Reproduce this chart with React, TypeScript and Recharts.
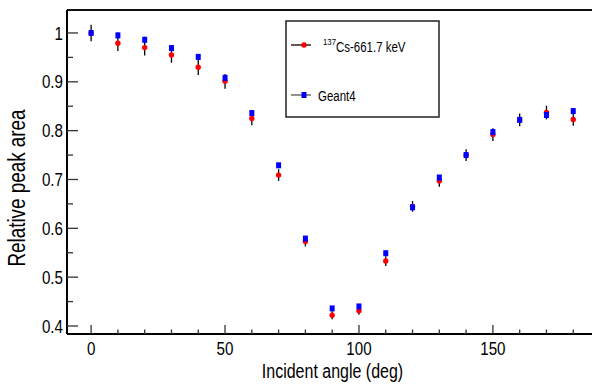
import {
  ErrorBar,
  Legend,
  ReferenceLine,
  Scatter,
  ScatterChart,
  XAxis,
  YAxis,
} from "recharts";

// incident angles (deg)
const angles = [0, 10, 20, 30, 40, 50, 60, 70, 80, 90, 100, 110, 120, 130, 140, 150, 160, 170, 180];

// 137Cs 661.7 keV measurement
const csArea = [1.0, 0.979, 0.97, 0.955, 0.93, 0.901, 0.825, 0.709, 0.573, 0.422, 0.431, 0.533, 0.645, 0.697, 0.75, 0.792, 0.822, 0.837, 0.823];
const csErr = [0.017, 0.016, 0.016, 0.016, 0.016, 0.015, 0.014, 0.012, 0.01, 0.008, 0.008, 0.01, 0.011, 0.012, 0.012, 0.013, 0.013, 0.014, 0.013];

// Geant4 simulation
const g4Area = [1.0, 0.995, 0.986, 0.969, 0.951, 0.908, 0.836, 0.729, 0.579, 0.436, 0.44, 0.549, 0.643, 0.704, 0.75, 0.797, 0.822, 0.832, 0.84];
const g4Err = [0.006, 0.006, 0.006, 0.006, 0.006, 0.006, 0.005, 0.005, 0.005, 0.004, 0.004, 0.005, 0.005, 0.005, 0.005, 0.006, 0.006, 0.006, 0.006];

const xTicks = [0, 10, 20, 30, 40, 50, 60, 70, 80, 90, 100, 110, 120, 130, 140, 150, 160, 170, 180];
const yTicks = [0.4, 0.45, 0.5, 0.55, 0.6, 0.65, 0.7, 0.75, 0.8, 0.85, 0.9, 0.95, 1.0];

const X_DOMAIN: [number, number] = [-9, 187];
const Y_DOMAIN: [number, number] = [0.3836, 1.047];

const FONT = "'Liberation Sans', Arial, sans-serif";
const NARROW = 0.82; // ROOT-style condensed helvetica
const TICK_MARGIN = 4;

const csData = angles.map((a, i) => ({ angle: a, area: csArea[i], err: csErr[i] }));
const g4Data = angles.map((a, i) => ({ angle: a, area: g4Area[i], err: g4Err[i] }));

// text squeezed horizontally (along its own direction)
function NText({ x, y, size, anchor = "start", rotate = 0, dy, children }: any) {
  return (
    <g transform={`translate(${x}, ${y}) rotate(${rotate}) scale(${NARROW}, 1)`}>
      <text x={0} y={0} dy={dy} textAnchor={anchor} fontSize={size} fontFamily={FONT} fill="#000">
        {children}
      </text>
    </g>
  );
}

function XTick(props: any) {
  const { x, y, payload } = props;
  const v = payload.value as number;
  const major = v % 50 === 0;
  const axisY = y - TICK_MARGIN;
  return (
    <g>
      <line x1={x} x2={x} y1={axisY} y2={axisY - (major ? 9 : 4.5)} stroke="#333" strokeWidth={1.3} />
      {major && (
        <NText x={x} y={axisY + 21} size={18.5} anchor="middle">
          {v}
        </NText>
      )}
    </g>
  );
}

function YTick(props: any) {
  const { x, y, payload } = props;
  const v = payload.value as number;
  const major = Math.abs(v * 10 - Math.round(v * 10)) < 1e-6;
  const axisX = x + TICK_MARGIN;
  return (
    <g>
      <line x1={axisX} x2={axisX + (major ? 11 : 6)} y1={y} y2={y} stroke="#333" strokeWidth={1.3} />
      {major && (
        <NText x={x} y={y} dy="0.36em" size={18.5} anchor="end">
          {Number(v.toFixed(1)).toString()}
        </NText>
      )}
    </g>
  );
}

function XLabel(props: any) {
  const { viewBox } = props;
  const cx = viewBox.x + viewBox.width / 2 + 3;
  return (
    <NText x={cx} y={378} size={19.5} anchor="middle">
      Incident angle (deg)
    </NText>
  );
}

function YLabel(props: any) {
  const { viewBox } = props;
  const cy = viewBox.y + viewBox.height / 2 + 16;
  return (
    <NText x={25} y={cy} size={23} anchor="middle" rotate={-90}>
      Relative peak area
    </NText>
  );
}

function LegendBox() {
  return (
    <svg width={156} height={100} style={{ display: "block" }}>
      <rect x={1} y={1} width={153} height={96} fill="#fff" stroke="#222" strokeWidth={1.5} />
      <line x1={6} x2={26} y1={25} y2={25} stroke="#000" strokeWidth={1.3} />
      <circle cx={19} cy={25} r={2.7} fill="#ff0000" />
      <NText x={38} y={25} size={9.5}>137</NText>
      <NText x={51} y={32} size={14}>Cs-661.7 keV</NText>
      <line x1={6} x2={26} y1={75} y2={75} stroke="#555" strokeWidth={1.3} />
      <rect x={16.5} y={72} width={5} height={6} fill="#0000ff" />
      <NText x={33} y={81} size={14}>Geant4</NText>
    </svg>
  );
}

export default function App() {
  return (
    <div
      style={{
        position: "absolute",
        left: 0,
        top: 0,
        width: 592,
        height: 385,
        overflow: "hidden",
        background: "#fff",
      }}
    >
      <ScatterChart width={592} height={385} margin={{ top: 10, right: 0, bottom: 0, left: 0 }}>
        <XAxis
          type="number"
          dataKey="angle"
          domain={X_DOMAIN}
          ticks={xTicks}
          allowDataOverflow
          height={51}
          tickSize={0}
          tickMargin={TICK_MARGIN}
          tickLine={false}
          tick={<XTick />}
          stroke="#000"
          strokeWidth={2}
          interval={0}
          label={<XLabel />}
        />
        <YAxis
          type="number"
          dataKey="area"
          domain={Y_DOMAIN}
          ticks={yTicks}
          allowDataOverflow
          width={67}
          tickSize={0}
          tickMargin={TICK_MARGIN}
          tickLine={false}
          tick={<YTick />}
          stroke="#000"
          strokeWidth={2}
          interval={0}
          label={<YLabel />}
        />
        <ReferenceLine y={Y_DOMAIN[1]} stroke="#111" strokeWidth={2} ifOverflow="visible" />
        <Legend
          layout="horizontal"
          verticalAlign="middle"
          align="center"
          content={<LegendBox />}
          wrapperStyle={{ position: "absolute", left: 285, top: 20, width: 156, height: 100 }}
        />
        <Scatter
          name="137Cs-661.7 keV"
          data={csData}
          isAnimationActive={false}
          shape={(p: any) => <circle cx={p.cx} cy={p.cy} r={2.7} fill="#ff0000" />}
        >
          <ErrorBar dataKey="err" direction="y" width={0} stroke="#000" strokeWidth={1.3} isAnimationActive={false} />
        </Scatter>
        <Scatter
          name="Geant4"
          data={g4Data}
          isAnimationActive={false}
          shape={(p: any) => <rect x={p.cx - 2.5} y={p.cy - 3} width={5} height={6} fill="#0000ff" />}
        >
          <ErrorBar dataKey="err" direction="y" width={0} stroke="#000" strokeWidth={1.3} isAnimationActive={false} />
        </Scatter>
      </ScatterChart>
    </div>
  );
}
